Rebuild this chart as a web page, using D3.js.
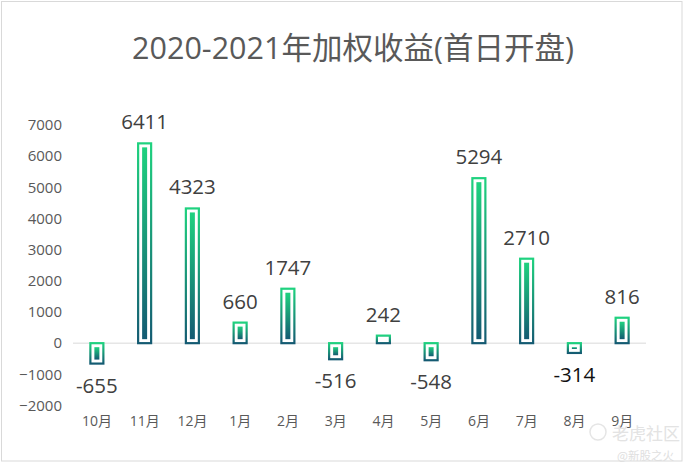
<!DOCTYPE html>
<html><head><meta charset="utf-8">
<script src="https://cdn.jsdelivr.net/npm/d3@7/dist/d3.min.js"></script>
<style>
html,body{margin:0;padding:0;background:#fff;}
svg{display:block;}
</style></head>
<body>
<svg id="chart" width="688" height="472"></svg>
<script>
const title = "2020-2021年加权收益(首日开盘)";
const categories = ["10月","11月","12月","1月","2月","3月","4月","5月","6月","7月","8月","9月"];
const values = [-655, 6411, 4323, 660, 1747, -516, 242, -548, 5294, 2710, -314, 816];
const yTicks = [-2000, -1000, 0, 1000, 2000, 3000, 4000, 5000, 6000, 7000];

const svg = d3.select("#chart");
const font = "'Open Sans','Noto Sans CJK SC',sans-serif";

// frame
svg.append("rect").attr("x",1.5).attr("y",1.5).attr("width",680.5).attr("height",459.5)
  .attr("fill","#fff").attr("stroke","#d9d9d9").attr("stroke-width",1);

const defs = svg.append("defs");
const grad = defs.append("linearGradient").attr("id","g").attr("x1",0).attr("y1",0).attr("x2",0).attr("y2",1);
grad.append("stop").attr("offset","0%").attr("stop-color","#1fd27f");
grad.append("stop").attr("offset","100%").attr("stop-color","#145a72");

const x = d3.scaleBand().domain(categories).range([73, 646]);
const y = d3.scaleLinear().domain([-2000, 7000]).range([405.5, 125]);

// title
svg.append("text").attr("x",353).attr("y",59).attr("text-anchor","middle")
  .attr("font-family",font).attr("font-size",30.5).attr("fill","#595959").text(title);

// y axis labels
const yAxis = d3.axisLeft(y).tickValues(yTicks).tickSize(0).tickPadding(0).tickFormat(d3.format("d"));
const ya = svg.append("g").attr("transform","translate(62,0)").call(yAxis);
ya.select(".domain").remove();
ya.selectAll("text").attr("font-family",font).attr("font-size",15).attr("fill","#595959");

// zero line
svg.append("line").attr("x1",73).attr("x2",646).attr("y1",y(0)).attr("y2",y(0))
  .attr("stroke","#d9d9d9").attr("stroke-width",1);

// x axis labels
const xAxis = d3.axisBottom(x).tickSize(0).tickPadding(0);
const xa = svg.append("g").attr("transform","translate(0,416)").call(xAxis);
xa.select(".domain").remove();
xa.selectAll("text").attr("font-family",font).attr("font-size",14).attr("fill","#595959");

// bars
const outerW = 13, innerW = 5;
const bars = svg.append("g").selectAll("g").data(values).join("g");
bars.append("rect")
  .attr("x",(d,i)=>x(categories[i]) + x.bandwidth()/2 - outerW/2)
  .attr("y",d=>Math.min(y(d),y(0)))
  .attr("width",outerW)
  .attr("height",d=>Math.abs(y(d)-y(0)))
  .attr("fill","none").attr("stroke","url(#g)").attr("stroke-width",2.2);
bars.append("rect")
  .attr("x",(d,i)=>x(categories[i]) + x.bandwidth()/2 - innerW/2)
  .attr("y",d=>Math.min(y(d),y(0)) + 4)
  .attr("width",innerW)
  .attr("height",d=>Math.max(0, Math.abs(y(d)-y(0)) - 8))
  .attr("fill","url(#g)");

// data labels
svg.append("g").selectAll("text").data(values).join("text")
  .attr("x",(d,i)=>x(categories[i]) + x.bandwidth()/2)
  .attr("y",d=> d>=0 ? y(d)-14 : y(d)+29)
  .attr("text-anchor","middle")
  .attr("font-family",font).attr("font-size",20.5)
  .attr("fill",d=> d===-314 ? "#111" : "#404040")
  .text(d=>d);

// watermark
const wm = svg.append("g").attr("opacity",0.9);
wm.append("circle").attr("cx",598).attr("cy",432).attr("r",8).attr("fill","none").attr("stroke","#e3e3e3").attr("stroke-width",1.5);
wm.append("text").attr("x",612).attr("y",440).attr("font-family","'Noto Sans CJK SC',sans-serif")
  .attr("font-size",17).attr("fill","#e0e0e0").text("老虎社区");
wm.append("text").attr("x",617).attr("y",460).attr("font-family","'Noto Sans CJK SC',sans-serif")
  .attr("font-size",11.5).attr("fill","#dcdcdc").text("@新股之火");
</script>
</body></html>
